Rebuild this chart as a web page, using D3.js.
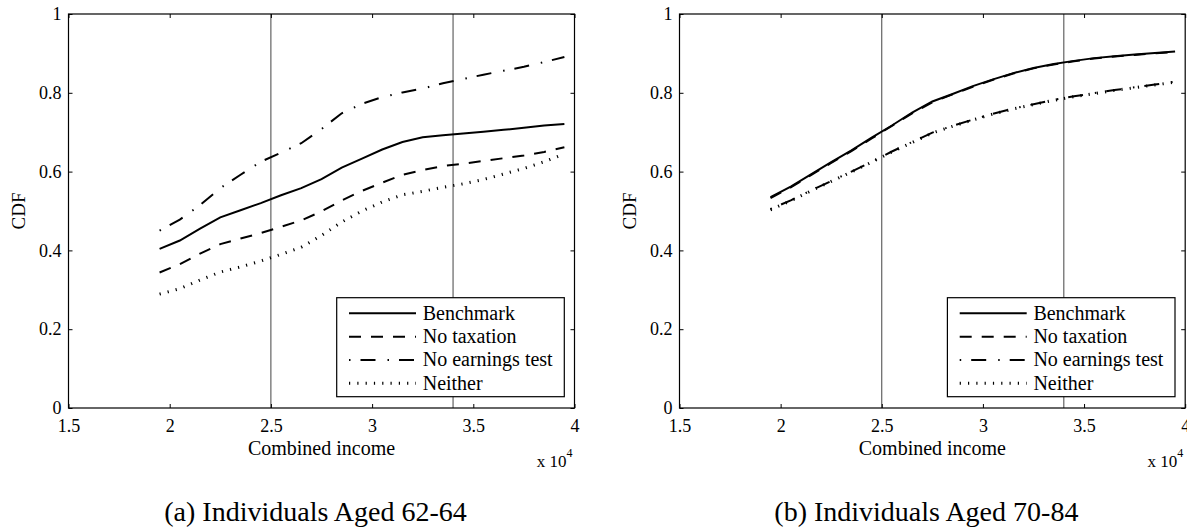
<!DOCTYPE html>
<html><head><meta charset="utf-8">
<script src="https://cdn.jsdelivr.net/npm/d3@7"></script>
<style>
body{margin:0;background:#fff}
svg{display:block}
svg text{font-family:'Liberation Serif','DejaVu Serif','Noto Serif',serif !important;fill:#000}
</style>
</head><body>
<svg id="c" width="1187" height="529" font-family="Liberation Serif, DejaVu Serif, serif"></svg>
<script>
// ---- data (income in dollars, CDF values) ----
const incomes = [19500,20500,21500,22500,23500,24500,25500,26500,27500,28500,29500,30500,31500,32500,33500,34500,35500,36500,37500,38500,39500];

const seriesNames = ["Benchmark","No taxation","No earnings test","Neither"];

// Panel (a): Individuals aged 62-64
const aBenchmark   = [0.404,0.425,0.455,0.484,0.502,0.520,0.540,0.558,0.581,0.610,0.633,0.656,0.675,0.687,0.692,0.697,0.701,0.706,0.711,0.717,0.721];
const aNoTaxation  = [0.344,0.365,0.392,0.416,0.430,0.444,0.460,0.476,0.499,0.527,0.551,0.572,0.592,0.604,0.614,0.620,0.627,0.634,0.641,0.650,0.662];
const aNoEarnings  = [0.450,0.478,0.515,0.558,0.592,0.625,0.648,0.672,0.708,0.748,0.772,0.789,0.801,0.811,0.824,0.835,0.846,0.856,0.866,0.878,0.891];
const aNeither     = [0.289,0.303,0.325,0.345,0.358,0.373,0.390,0.408,0.438,0.472,0.500,0.523,0.541,0.550,0.560,0.569,0.580,0.594,0.608,0.625,0.645];

// Panel (b): Individuals aged 70-84
const bBenchmark   = [0.535,0.562,0.593,0.624,0.654,0.686,0.717,0.750,0.778,0.797,0.817,0.834,0.850,0.863,0.873,0.881,0.888,0.893,0.897,0.901,0.905];
const bNoTaxation  = [0.533,0.560,0.591,0.622,0.652,0.684,0.716,0.748,0.776,0.796,0.815,0.833,0.849,0.862,0.872,0.880,0.887,0.892,0.896,0.900,0.904];
const bNoEarnings  = [0.505,0.527,0.552,0.576,0.600,0.625,0.651,0.675,0.699,0.716,0.732,0.747,0.760,0.771,0.782,0.791,0.799,0.807,0.814,0.821,0.828];
const bNeither     = [0.503,0.526,0.551,0.575,0.599,0.624,0.650,0.674,0.698,0.715,0.731,0.746,0.759,0.770,0.781,0.790,0.798,0.806,0.813,0.820,0.827];

const xTicks = [15000,20000,25000,30000,35000,40000];
const yTicks = [0,0.2,0.4,0.6,0.8,1];
const refLines = [25000,34000];
const captions = ["(a) Individuals Aged 62-64","(b) Individuals Aged 70-84"];
const xLabel = "Combined income";
const yLabel = "CDF";

// ---- styles ----
const FONT = "Liberation Serif, DejaVu Serif, serif";
const styles = [
  {dash:null, w:2},
  {dash:"12,10", w:2},
  {dash:"1.5,10,15,12", w:2},
  {dash:"1.2,7.1", w:3}
];

const panels = [
  {left:68.5, right:574.5, caption:captions[0], series:[aBenchmark,aNoTaxation,aNoEarnings,aNeither]},
  {left:679.5, right:1185.2, caption:captions[1], series:[bBenchmark,bNoTaxation,bNoEarnings,bNeither]}
];
const plotTop = 14, plotBottom = 408;

const svg = d3.select("#c");

panels.forEach(p => {
  const x = d3.scaleLinear().domain([15000,40000]).range([p.left,p.right]);
  const y = d3.scaleLinear().domain([0,1]).range([plotBottom,plotTop]);
  const g = svg.append("g").attr("font-family",FONT);

  // reference vertical lines
  g.selectAll("line.ref").data(refLines).join("line")
    .attr("class","ref")
    .attr("x1",d=>x(d)).attr("x2",d=>x(d))
    .attr("y1",plotTop).attr("y2",plotBottom)
    .attr("stroke","#444").attr("stroke-width",1);

  // series
  const line = d3.line().x((d,i)=>x(incomes[i])).y(d=>y(d));
  p.series.forEach((s,k) => {
    g.append("path").datum(s)
      .attr("d",line)
      .attr("fill","none")
      .attr("stroke","#000")
      .attr("stroke-width",styles[k].w)
      .attr("stroke-dasharray",styles[k].dash);
  });

  // axes
  const ax = g.append("g").attr("transform",`translate(0,${plotBottom})`)
    .call(d3.axisBottom(x).tickValues(xTicks).tickFormat(d=>String(d/1e4))
      .tickSizeInner(-4).tickSizeOuter(0).tickPadding(11));
  const ay = g.append("g").attr("transform",`translate(${p.left},0)`)
    .call(d3.axisLeft(y).tickValues(yTicks).tickFormat(d=>String(d))
      .tickSizeInner(-4).tickSizeOuter(0).tickPadding(7));
  const at = g.append("g").attr("transform",`translate(0,${plotTop})`)
    .call(d3.axisTop(x).tickValues(xTicks).tickFormat("")
      .tickSizeInner(-4).tickSizeOuter(0));
  const ar = g.append("g").attr("transform",`translate(${p.right},0)`)
    .call(d3.axisRight(y).tickValues(yTicks).tickFormat("")
      .tickSizeInner(-4).tickSizeOuter(0));
  [ax,ay,at,ar].forEach(a => {
    a.attr("font-family",FONT).attr("font-size",18);
    a.select(".domain").remove();
    a.selectAll("line").attr("stroke","#000").attr("stroke-width",1);
    a.selectAll("text").attr("font-size",18).attr("font-family",FONT);
  });

  // legend
  const bx = p.right - 237.8, by = 297.7;
  const lg = g.append("g");
  lg.append("rect").attr("x",bx).attr("y",by).attr("width",227.6).attr("height",99)
    .attr("fill","#fff").attr("stroke","#000").attr("stroke-width",1.2);
  seriesNames.forEach((name,k) => {
    const cy = 313.3 + k*23.33;
    lg.append("line").attr("x1",bx+12.3).attr("x2",bx+79.3).attr("y1",cy).attr("y2",cy)
      .attr("stroke","#000").attr("stroke-width",styles[k].w)
      .attr("stroke-dasharray",styles[k].dash);
    lg.append("text").attr("x",bx+86).attr("y",cy+6.3).attr("font-size",20)
      .attr("font-family",FONT).text(name);
  });

  // frame
  g.append("rect").attr("x",p.left).attr("y",plotTop)
    .attr("width",p.right-p.left).attr("height",plotBottom-plotTop)
    .attr("fill","none").attr("stroke","#000").attr("stroke-width",1.2);

  // labels
  g.append("text").attr("x",(p.left+p.right)/2).attr("y",455)
    .attr("text-anchor","middle").attr("font-size",20).attr("font-family",FONT).text(xLabel);
  g.append("text").attr("transform",`translate(${p.left-43.5},${(plotTop+plotBottom)/2}) rotate(-90)`)
    .attr("text-anchor","middle").attr("font-size",19).attr("font-family",FONT).text(yLabel);
  const mult = g.append("text").attr("x",p.right-37.8).attr("y",467).attr("font-size",17).attr("font-family",FONT);
  mult.append("tspan").text("x 10");
  mult.append("tspan").attr("font-size",12).attr("dy",-10).text("4");

  // caption
  g.append("text").attr("x",(p.left+p.right)/2-6).attr("y",521)
    .attr("text-anchor","middle").attr("font-size",28).attr("font-family",FONT).text(p.caption);
});
</script>
</body></html>
